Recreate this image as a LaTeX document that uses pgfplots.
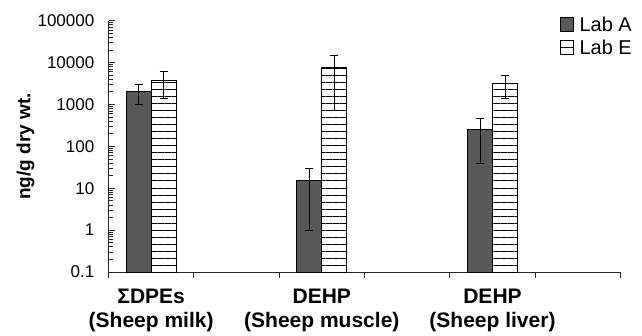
\documentclass[border=0pt]{standalone}
\usepackage{fontspec}
\setmainfont{Liberation Sans}
\usepackage{pgfplots}
\pgfplotsset{compat=1.18}
\usetikzlibrary{patterns.meta}

\definecolor{labA}{RGB}{88,88,88}
\newcommand{\tickfont}{\fontsize{17}{20}\selectfont}
% tick text kept in the sans text font
\newcommand{\tk}[1]{\mbox{\tickfont #1}}

\pgfplotsset{
  errstyle/.style={
    error bars/.cd, y dir=both, y explicit,
    error bar style={line width=1pt, black},
    error mark options={rotate=90, mark size=4pt, line width=1pt, black},
  },
}

\begin{document}
\begin{tikzpicture}
\path[use as bounding box] (0,0) rectangle (642pt,335pt);
\begin{axis}[
  at={(108.5pt,63pt)}, anchor=south west,
  scale only axis,
  width=512pt, height=251.3pt,
  ymode=log, ymin=0.1, ymax=100000,
  log origin=infty,
  xmin=-0.5, xmax=5.5,
  ybar=0pt, bar width=25pt,
  axis x line*=bottom, axis y line*=left,
  axis line style={-, line width=1pt, black!85},
  ytick={0.1,1,10,100,1000,10000,100000},
  yticklabels={\tk{0.1},\tk{1},\tk{10},\tk{100},\tk{1000},\tk{10000},\tk{100000}},
  yminorticks=true,
  ytick align=inside,
  xtick align=outside,
  major tick length=6pt, minor tick length=4pt,
  every tick/.style={black!85, line width=0.8pt},
  yticklabel style={font=\tickfont, inner sep=0pt, xshift=-14pt},
  xtick={-0.5,0.5,1.5,2.5,3.5,4.5,5.5},
  xticklabels={},
  extra x ticks={0,2,4},
  extra x tick labels={{ΣDPEs\\(Sheep milk)},{DEHP\\(Sheep muscle)},{DEHP\\(Sheep liver)}},
  extra x tick style={major tick length=0pt,
    xticklabel style={font=\fontsize{21}{24}\selectfont\bfseries, align=center, yshift=-14pt}},
  ylabel={ng/g dry wt.},
  ylabel style={font=\fontsize{19}{22}\selectfont\bfseries, at={(axis description cs:-0.162,0.5)}, anchor=center},
  legend style={draw=none, fill=none, at={(rel axis cs:0.881,1.025)}, anchor=north west,
    font=\fontsize{20}{22}\selectfont, row sep=3pt, column sep=4pt, inner sep=0pt},
  legend cell align=left,
  legend image code/.code={\draw[#1, line width=0.8pt] (0pt,-6.5pt) rectangle (13pt,7pt);},
]
% Lab A
\addplot[fill=labA, draw=black, line width=0.8pt, errstyle] coordinates {
  (0,2000) +- (0,1000)
  (2,15) +- (0,14)
  (4,255) +- (0,215)
};
% Lab E
\addplot[draw=black, line width=0.8pt, fill=white,
  pattern={Lines[angle=0, distance=7pt, line width=1pt]}, pattern color=black, errstyle] coordinates {
  (0,3700) +- (0,2300)
  (2,7700) +- (0,7000)
  (4,3150) +- (0,1750)
};
\legend{Lab A, Lab E}
\end{axis}
\end{tikzpicture}
\end{document}
